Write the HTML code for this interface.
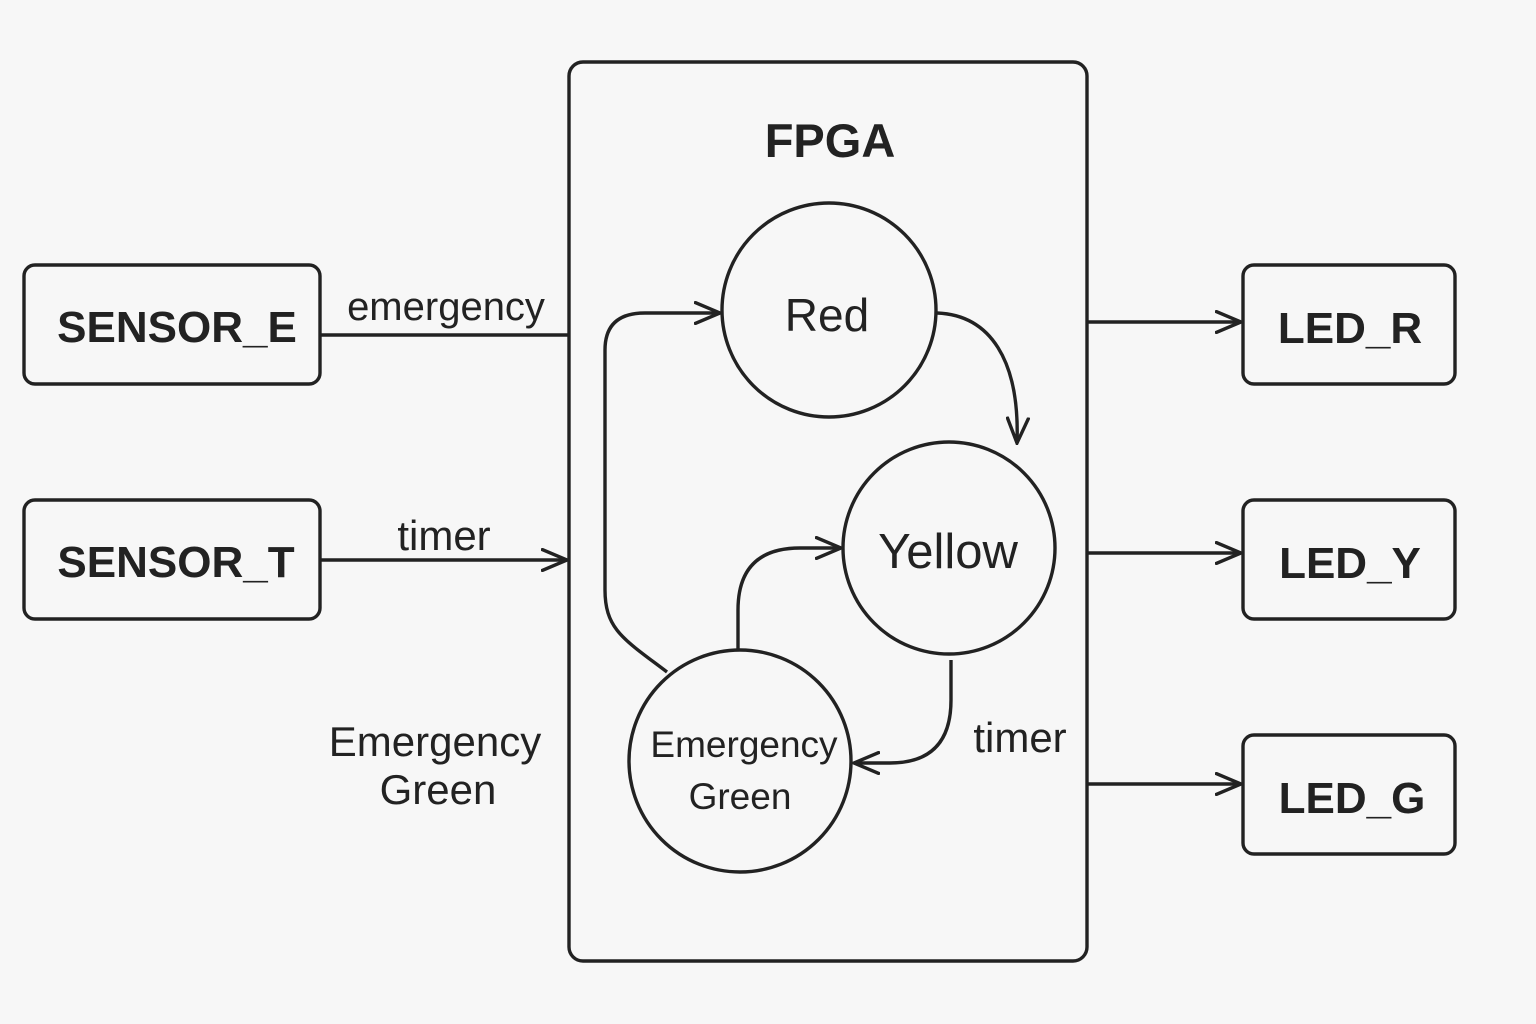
<!DOCTYPE html>
<html><head><meta charset="utf-8"><style>
html,body{margin:0;padding:0;background:#f7f7f7;}
svg{display:block;}
text{font-family:"Liberation Sans",sans-serif;fill:#222;}
</style></head><body>
<svg width="1536" height="1024" viewBox="0 0 1536 1024" xmlns="http://www.w3.org/2000/svg">
<defs>
<marker id="b" markerWidth="28" markerHeight="24" refX="26" refY="12" orient="auto" markerUnits="userSpaceOnUse" viewBox="0 0 28 24">
<path d="M0,1 L26,12 L0,23" fill="none" stroke="#222" stroke-width="3.4"/>
</marker>
</defs>
<g fill="none" stroke="#222" stroke-width="3.4">
<rect x="24" y="265" width="296" height="119" rx="11"/>
<rect x="24" y="500" width="296" height="119" rx="11"/>
<rect x="1243" y="265" width="212" height="119" rx="11"/>
<rect x="1243" y="500" width="212" height="119" rx="11"/>
<rect x="1243" y="735" width="212" height="119" rx="11"/>
<rect x="569" y="62" width="518" height="899" rx="14"/>
<circle cx="829" cy="310" r="107"/>
<circle cx="949" cy="548" r="106"/>
<circle cx="740" cy="761" r="111"/>
<line x1="320" y1="335" x2="569" y2="335"/>
<line x1="320" y1="560" x2="567" y2="560" marker-end="url(#b)"/>
<line x1="1087" y1="322" x2="1241" y2="322" marker-end="url(#b)"/>
<line x1="1087" y1="553" x2="1241" y2="553" marker-end="url(#b)"/>
<line x1="1087" y1="784" x2="1241" y2="784" marker-end="url(#b)"/>
<path d="M937,313 C990,315 1020,360 1017,443" marker-end="url(#b)"/>
<path d="M667,672 C625,640 605,630 605,590 L605,350 Q605,313 645,313 L720,313" marker-end="url(#b)"/>
<path d="M738,650 L738,610 Q738,548 800,548 L841,548" marker-end="url(#b)"/>
<path d="M951,660 L951,700 Q951,763 890,763 L854,763" marker-end="url(#b)"/>
</g>
<g font-weight="bold" font-size="44" text-anchor="middle">
<text x="177" y="342">SENSOR_E</text>
<text x="176" y="577">SENSOR_T</text>
<text x="1350" y="343">LED_R</text>
<text x="1350" y="578">LED_Y</text>
<text x="1352" y="813">LED_G</text>
<text x="830" y="157" font-size="47">FPGA</text>
</g>
<g font-size="40" text-anchor="middle">
<text x="446" y="320">emergency</text>
<text x="444" y="550" font-size="42">timer</text>
<text x="435" y="756" font-size="42">Emergency</text>
<text x="438" y="804" font-size="42">Green</text>
<text x="1020" y="752" font-size="42">timer</text>
<text x="827" y="331" font-size="46">Red</text>
<text x="948" y="568" font-size="49">Yellow</text>
<text x="744" y="757" font-size="37">Emergency</text>
<text x="740" y="809" font-size="37">Green</text>
</g>
</svg>
</body></html>
